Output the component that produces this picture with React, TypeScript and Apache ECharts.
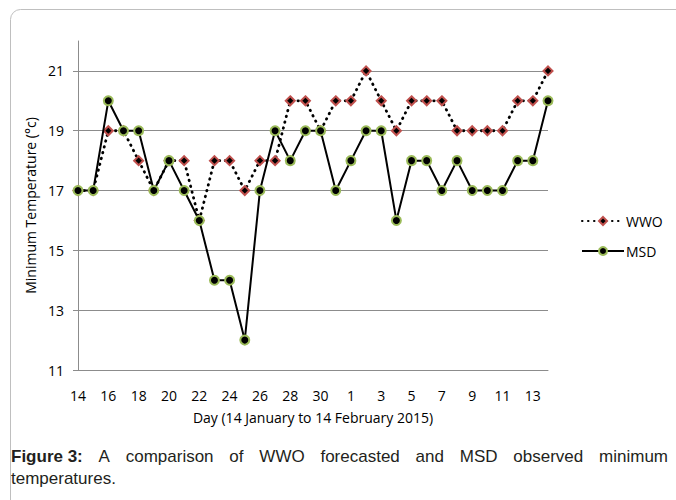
import React, { useEffect, useRef } from 'react';
import * as echarts from 'echarts';

const days = ['14','15','16','17','18','19','20','21','22','23','24','25','26','27','28','29','30','31','1','2','3','4','5','6','7','8','9','10','11','12','13','14'];
const wwo = [17,17,19,19,18,17,18,18,16,18,18,17,18,18,20,20,19,20,20,21,20,19,20,20,20,19,19,19,19,20,20,21];
const msd = [17,17,20,19,19,17,18,17,16,14,14,12,17,19,18,19,19,17,18,19,19,16,18,18,17,18,17,17,17,18,18,20];
const yTicks = [11,13,15,17,19,21];
const captionLine1 = [
  { t: 'Figure 3:', b: true }, { t: 'A' }, { t: 'comparison' }, { t: 'of' },
  { t: 'WWO' }, { t: 'forecasted' }, { t: 'and' }, { t: 'MSD' }, { t: 'observed' }, { t: 'minimum' },
];
const captionLine2 = 'temperatures.';

const AX_FONT = '"Open Sans", sans-serif';
const CAP_FONT = '"Liberation Sans", Arial, sans-serif';
const CAP_SIZE = 17;

export default function App() {
  const ref = useRef<HTMLDivElement>(null);
  useEffect(() => {
    document.body.style.margin = '0';
    const chart = echarts.init(ref.current!, null, { renderer: 'svg' });

    // justify caption line 1
    const ctx = document.createElement('canvas').getContext('2d')!;
    const widths = captionLine1.map((w) => {
      ctx.font = `${w.b ? 'bold ' : ''}${CAP_SIZE}px ${CAP_FONT}`;
      return ctx.measureText(w.t).width;
    });
    const x0 = 11, x1 = 668;
    const total = widths.reduce((a, b) => a + b, 0);
    const gap = (x1 - x0 - total) / (captionLine1.length - 1);
    let cx = x0;
    const capEls: any[] = captionLine1.map((w, i) => {
      const el = {
        type: 'text', x: cx, y: 456,
        style: { text: w.t, font: `${w.b ? 'bold ' : ''}${CAP_SIZE}px ${CAP_FONT}`, fill: '#231f20', verticalAlign: 'middle', align: 'left' },
      };
      cx += widths[i] + gap;
      return el;
    });
    capEls.push({
      type: 'text', x: x0, y: 478,
      style: { text: captionLine2, font: `${CAP_SIZE}px ${CAP_FONT}`, fill: '#231f20', verticalAlign: 'middle', align: 'left' },
    });

    const gray = '#8c8c8c';
    chart.setOption({
      animation: false,
      grid: { left: 78, right: 128, top: 41, bottom: 130 },
      legend: {
        orient: 'vertical', left: 576, top: 207, itemWidth: 42, itemHeight: 10, itemGap: 12,
        textStyle: { fontFamily: AX_FONT, fontSize: 14, color: '#000', lineHeight: 18, padding: [0, 0, 0, -3] },
        data: ['WWO', 'MSD'],
      },
      xAxis: {
        type: 'category', data: days, boundaryGap: false,
        axisLine: { lineStyle: { color: gray, width: 1 } },
        axisTick: { show: false },
        axisLabel: { interval: 1, margin: 18, fontFamily: AX_FONT, fontSize: 14, color: '#000' },
        splitLine: { show: false },
        name: 'Day (14 January to 14 February 2015)', nameLocation: 'middle', nameGap: 40,
        nameTextStyle: { fontFamily: AX_FONT, fontSize: 14, color: '#000' },
      },
      yAxis: {
        type: 'value', min: 11, max: 22, interval: 2,
        axisLine: { show: true, lineStyle: { color: gray, width: 1 } },
        axisTick: { show: true, inside: false, length: 5, lineStyle: { color: gray }, customValues: yTicks },
        axisLabel: { margin: 14, fontFamily: AX_FONT, fontSize: 14, color: '#000', customValues: yTicks },
        splitLine: { show: true, lineStyle: { color: [gray, gray, gray, gray, gray, gray, 'rgba(0,0,0,0)'], width: 1 } },
        name: 'Minimum Temperature (°c)', nameLocation: 'middle', nameGap: 28,
        nameTextStyle: { fontFamily: AX_FONT, fontSize: 14, color: '#000' },
      },
      series: [
        {
          name: 'WWO', type: 'line', data: wwo, symbol: 'diamond', symbolSize: 9, showAllSymbol: true,
          lineStyle: { color: '#000', width: 2.8, type: [0.5, 5.5], cap: 'round' },
          itemStyle: { color: '#000', borderColor: '#c0504d', borderWidth: 2 },
          z: 2,
        },
        {
          name: 'MSD', type: 'line', data: msd, symbol: 'circle', symbolSize: 9, showAllSymbol: true,
          lineStyle: { color: '#000', width: 2 },
          itemStyle: { color: '#000', borderColor: '#9bbb59', borderWidth: 2 },
          z: 3,
        },
      ],
      graphic: [
        {
          type: 'rect', shape: { x: 10.5, y: 9.5, width: 720, height: 540, r: 10 },
          style: { fill: 'none', stroke: '#bfbfbf', lineWidth: 1 }, silent: true,
        },
        ...capEls,
      ],
    });
    return () => chart.dispose();
  }, []);
  return <div ref={ref} style={{ width: 676, height: 500 }} />;
}
